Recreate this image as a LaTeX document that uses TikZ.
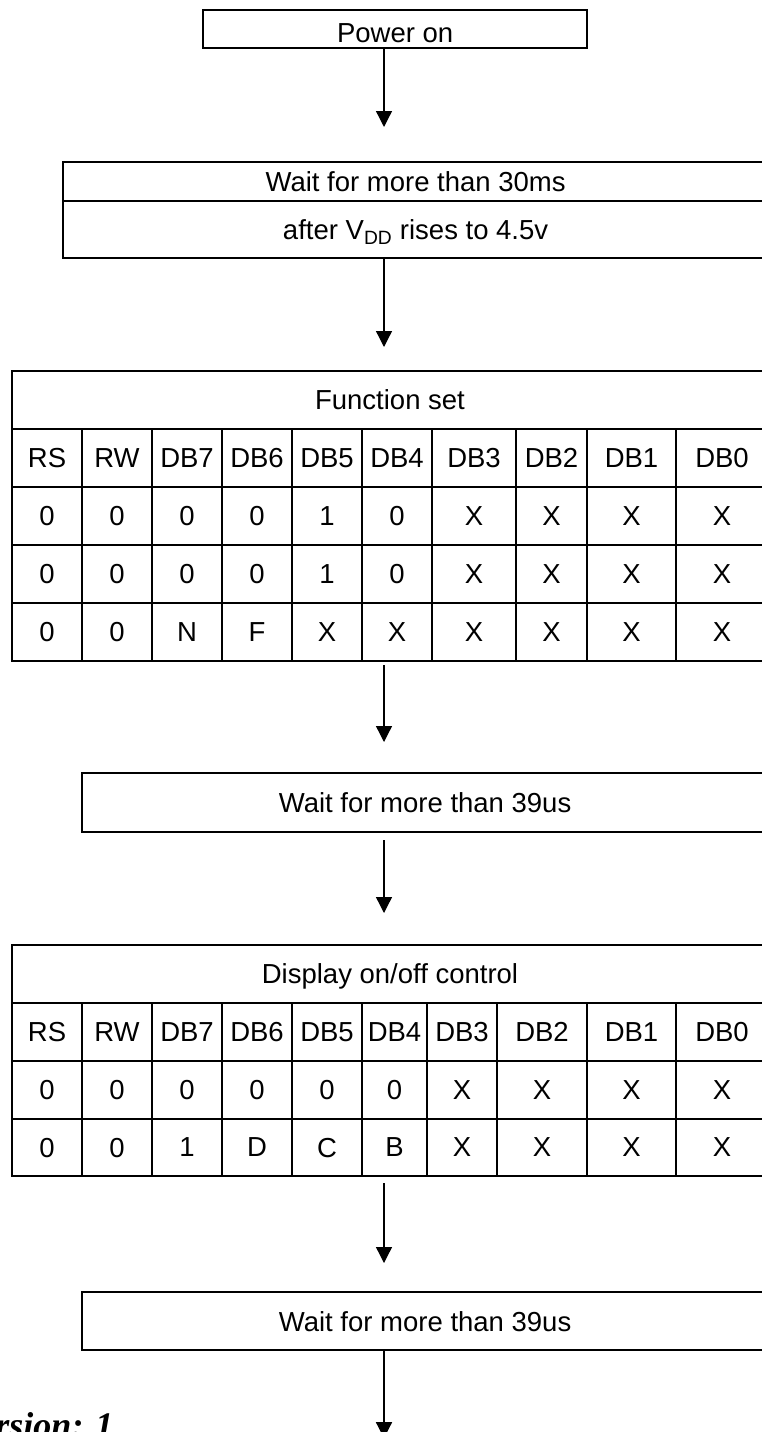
\documentclass[tikz,border=0pt]{standalone}
\usepackage{fontspec}
\setmainfont{Liberation Sans}
\newfontfamily\footerfont{Liberation Serif}
\usetikzlibrary{arrows.meta,calc}

\begin{document}
\begin{tikzpicture}[
		x=1pt, y=-1pt,
		% enaka visina besedila v vseh celicah
		verticalalign/.style={font=\fontsize{27.5}{33}\selectfont\vphantom{Ag}, text depth=0pt},
		cell/.style={verticalalign, draw, line width=2pt, anchor=north west, inner sep=0pt, minimum height=58pt},
		stepbox/.style={verticalalign, draw, line width=2.2pt, anchor=north west, inner sep=0pt},
		flowarrow/.style={line width=1.3pt, -{Triangle[width=16pt,length=16pt]}}
		]
		\clip (0,0) rectangle (762,1432);
		\coordinate (axis) at (384,0);

		\node[stepbox, minimum width=384pt, minimum height=38pt, text height=26pt] (power) at (202,9) {Power on};
		\node[stepbox, minimum width=705pt, minimum height=39pt] (wait1a) at (62,161) {Wait for more than 30ms};
		\node[stepbox, minimum width=705pt, minimum height=57pt] (wait1b) at (62,200) {after V\textsubscript{DD} rises to 4.5v};

		% Function set
		\node[cell, minimum width=756pt] (fs) at (11,370) {Function set};
		\node[cell, minimum width=70pt] (fs-0-1) at (11,428) {RS};
		\node[cell, minimum width=70pt] (fs-0-2) at (81,428) {RW};
		\node[cell, minimum width=70pt] (fs-0-3) at (151,428) {DB7};
		\node[cell, minimum width=70pt] (fs-0-4) at (221,428) {DB6};
		\node[cell, minimum width=70pt] (fs-0-5) at (291,428) {DB5};
		\node[cell, minimum width=70pt] (fs-0-6) at (361,428) {DB4};
		\node[cell, minimum width=84pt] (fs-0-7) at (431,428) {DB3};
		\node[cell, minimum width=71pt] (fs-0-8) at (515,428) {DB2};
		\node[cell, minimum width=89pt] (fs-0-9) at (586,428) {DB1};
		\node[cell, minimum width=92pt] (fs-0-10) at (675,428) {DB0};
		\node[cell, minimum width=70pt] (fs-1-1) at (11,486) {0};
		\node[cell, minimum width=70pt] (fs-1-2) at (81,486) {0};
		\node[cell, minimum width=70pt] (fs-1-3) at (151,486) {0};
		\node[cell, minimum width=70pt] (fs-1-4) at (221,486) {0};
		\node[cell, minimum width=70pt] (fs-1-5) at (291,486) {1};
		\node[cell, minimum width=70pt] (fs-1-6) at (361,486) {0};
		\node[cell, minimum width=84pt] (fs-1-7) at (431,486) {X};
		\node[cell, minimum width=71pt] (fs-1-8) at (515,486) {X};
		\node[cell, minimum width=89pt] (fs-1-9) at (586,486) {X};
		\node[cell, minimum width=92pt] (fs-1-10) at (675,486) {X};
		\node[cell, minimum width=70pt] (fs-2-1) at (11,544) {0};
		\node[cell, minimum width=70pt] (fs-2-2) at (81,544) {0};
		\node[cell, minimum width=70pt] (fs-2-3) at (151,544) {0};
		\node[cell, minimum width=70pt] (fs-2-4) at (221,544) {0};
		\node[cell, minimum width=70pt] (fs-2-5) at (291,544) {1};
		\node[cell, minimum width=70pt] (fs-2-6) at (361,544) {0};
		\node[cell, minimum width=84pt] (fs-2-7) at (431,544) {X};
		\node[cell, minimum width=71pt] (fs-2-8) at (515,544) {X};
		\node[cell, minimum width=89pt] (fs-2-9) at (586,544) {X};
		\node[cell, minimum width=92pt] (fs-2-10) at (675,544) {X};
		\node[cell, minimum width=70pt] (fs-3-1) at (11,602) {0};
		\node[cell, minimum width=70pt] (fs-3-2) at (81,602) {0};
		\node[cell, minimum width=70pt] (fs-3-3) at (151,602) {N};
		\node[cell, minimum width=70pt] (fs-3-4) at (221,602) {F};
		\node[cell, minimum width=70pt] (fs-3-5) at (291,602) {X};
		\node[cell, minimum width=70pt] (fs-3-6) at (361,602) {X};
		\node[cell, minimum width=84pt] (fs-3-7) at (431,602) {X};
		\node[cell, minimum width=71pt] (fs-3-8) at (515,602) {X};
		\node[cell, minimum width=89pt] (fs-3-9) at (586,602) {X};
		\node[cell, minimum width=92pt] (fs-3-10) at (675,602) {X};

		\node[stepbox, minimum width=686pt, minimum height=59pt] (wait2) at (81,772) {Wait for more than 39us};

		% Display on/off control
		\node[cell, minimum width=756pt] (disp) at (11,944) {Display on/off control};
		\node[cell, minimum width=70pt] (disp-0-1) at (11,1002) {RS};
		\node[cell, minimum width=70pt] (disp-0-2) at (81,1002) {RW};
		\node[cell, minimum width=70pt] (disp-0-3) at (151,1002) {DB7};
		\node[cell, minimum width=70pt] (disp-0-4) at (221,1002) {DB6};
		\node[cell, minimum width=70pt] (disp-0-5) at (291,1002) {DB5};
		\node[cell, minimum width=65pt] (disp-0-6) at (361,1002) {DB4};
		\node[cell, minimum width=70pt] (disp-0-7) at (426,1002) {DB3};
		\node[cell, minimum width=90pt] (disp-0-8) at (496,1002) {DB2};
		\node[cell, minimum width=89pt] (disp-0-9) at (586,1002) {DB1};
		\node[cell, minimum width=92pt] (disp-0-10) at (675,1002) {DB0};
		\node[cell, minimum width=70pt] (disp-1-1) at (11,1060) {0};
		\node[cell, minimum width=70pt] (disp-1-2) at (81,1060) {0};
		\node[cell, minimum width=70pt] (disp-1-3) at (151,1060) {0};
		\node[cell, minimum width=70pt] (disp-1-4) at (221,1060) {0};
		\node[cell, minimum width=70pt] (disp-1-5) at (291,1060) {0};
		\node[cell, minimum width=65pt] (disp-1-6) at (361,1060) {0};
		\node[cell, minimum width=70pt] (disp-1-7) at (426,1060) {X};
		\node[cell, minimum width=90pt] (disp-1-8) at (496,1060) {X};
		\node[cell, minimum width=89pt] (disp-1-9) at (586,1060) {X};
		\node[cell, minimum width=92pt] (disp-1-10) at (675,1060) {X};
		\node[cell, minimum width=70pt, minimum height=57pt] (disp-2-1) at (11,1118) {0};
		\node[cell, minimum width=70pt, minimum height=57pt] (disp-2-2) at (81,1118) {0};
		\node[cell, minimum width=70pt, minimum height=57pt] (disp-2-3) at (151,1118) {1};
		\node[cell, minimum width=70pt, minimum height=57pt] (disp-2-4) at (221,1118) {D};
		\node[cell, minimum width=70pt, minimum height=57pt] (disp-2-5) at (291,1118) {C};
		\node[cell, minimum width=65pt, minimum height=57pt] (disp-2-6) at (361,1118) {B};
		\node[cell, minimum width=70pt, minimum height=57pt] (disp-2-7) at (426,1118) {X};
		\node[cell, minimum width=90pt, minimum height=57pt] (disp-2-8) at (496,1118) {X};
		\node[cell, minimum width=89pt, minimum height=57pt] (disp-2-9) at (586,1118) {X};
		\node[cell, minimum width=92pt, minimum height=57pt] (disp-2-10) at (675,1118) {X};

		\node[stepbox, minimum width=686pt, minimum height=58pt] (wait3) at (81,1291) {Wait for more than 39us};

		\node[anchor=base east, font=\footerfont\fontsize{36}{40}\selectfont\bfseries\itshape] (version) at (117,1437) {Version: 1};

		\draw[flowarrow] (power.south -| axis) -- ($(wait1a.north -| axis)+(0,-34)$);
		\draw[flowarrow] (wait1b.south -| axis) -- ($(fs.north -| axis)+(0,-23)$);
		\draw[flowarrow] ($(fs-3-6.south -| axis)+(0,3)$) -- ($(wait2.north -| axis)+(0,-30)$);
		\draw[flowarrow] ($(wait2.south -| axis)+(0,7)$) -- ($(disp.north -| axis)+(0,-31)$);
		\draw[flowarrow] ($(disp-2-6.south -| axis)+(0,6)$) -- ($(wait3.north -| axis)+(0,-28)$);
		\draw[flowarrow] (wait3.south -| axis) -- ($(wait3.south -| axis)+(0,87)$);
	\end{tikzpicture}
\end{document}
